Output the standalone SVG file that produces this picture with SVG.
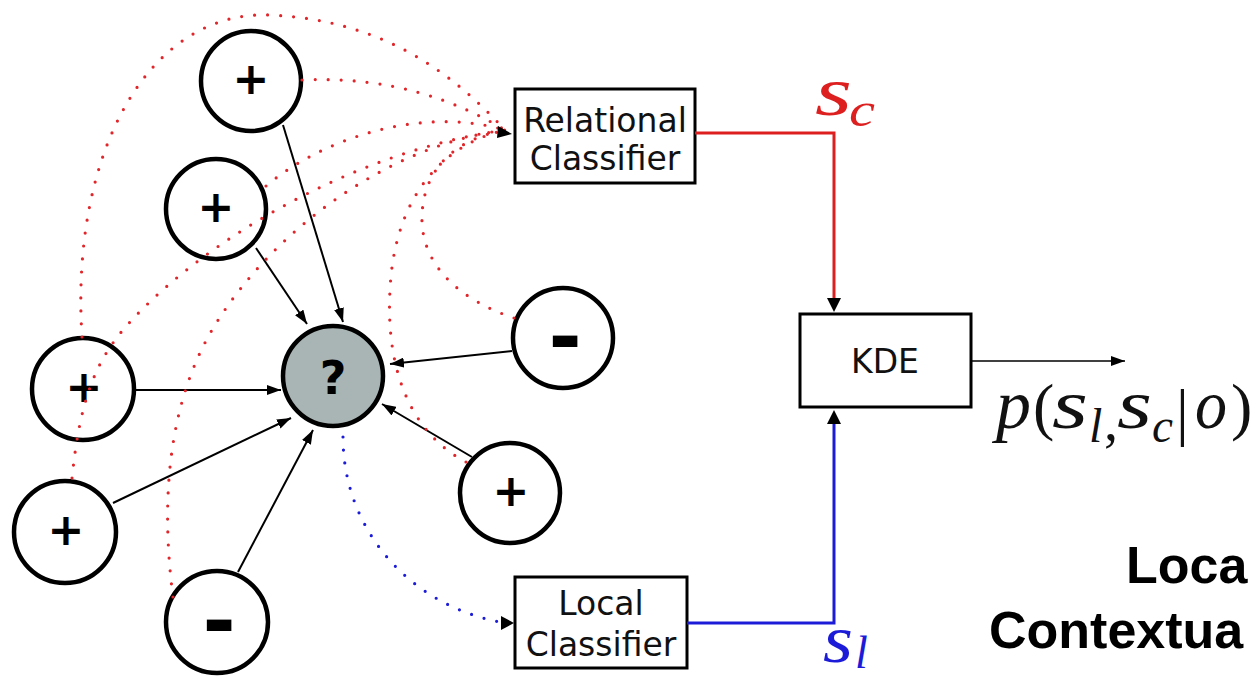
<svg xmlns="http://www.w3.org/2000/svg" width="1250" height="680" viewBox="0 0 1250 680">
  <style>
    .node { fill: #ffffff; stroke: #000; stroke-width: 4.5; }
    .query { fill: #a9b4b4; stroke: #000; stroke-width: 4.5; }
    .sign { font-family: "DejaVu Sans", sans-serif; font-weight: bold; fill: #000; text-anchor: middle; }
    .box { fill: #ffffff; stroke: #000; stroke-width: 3; }
    .boxlabel { font-family: "DejaVu Sans", sans-serif; font-size: 33px; fill: #111; text-anchor: middle; }
    .edge { fill: none; stroke: #000; stroke-width: 2; marker-end: url(#ah); }
    .rel { fill: none; stroke: #e0262a; stroke-width: 3.2; stroke-dasharray: 0 13; stroke-linecap: round; }
    .loc { fill: none; stroke: #1c1cd8; stroke-width: 3.2; stroke-dasharray: 0 13; stroke-linecap: round; }
    .math { font-family: "Liberation Serif", "Times New Roman", serif; font-style: italic; }
    .up { font-family: "Liberation Serif", "Times New Roman", serif; font-style: normal; }
    .title { font-family: "Liberation Sans", Arial, sans-serif; font-weight: bold; font-size: 52px; fill: #000; }
  </style>
  <defs>
    <marker id="ah" viewBox="0 0 14 10" refX="14" refY="5" markerWidth="14" markerHeight="10" orient="auto" markerUnits="userSpaceOnUse">
      <path d="M0,0 L14,5 L0,10 z" fill="#000"/>
    </marker>
  </defs>

  <rect width="1250" height="680" fill="#ffffff"/>

  <!-- neighbour nodes -->
  <g id="n-top-plus"><circle class="node" cx="251" cy="81" r="50"/><text class="sign" x="251" y="94" font-size="44">+</text></g>
  <g id="n-upper-plus"><circle class="node" cx="216" cy="209" r="50"/><text class="sign" x="216" y="222" font-size="44">+</text></g>
  <g id="n-left-plus"><circle class="node" cx="83" cy="389" r="51"/><text class="sign" x="84" y="402" font-size="44">+</text></g>
  <g id="n-lower-plus"><circle class="node" cx="65" cy="532" r="51"/><text class="sign" x="66" y="545" font-size="44">+</text></g>
  <g id="n-bottom-minus"><circle class="node" cx="217" cy="622" r="51"/><text class="sign" x="219" y="648" font-size="80">-</text></g>
  <g id="n-right-minus"><circle class="node" cx="563" cy="338" r="50"/><text class="sign" x="565" y="364" font-size="80">-</text></g>
  <g id="n-right-plus"><circle class="node" cx="510" cy="493" r="50"/><text class="sign" x="511" y="506" font-size="44">+</text></g>

  <!-- node to classify -->
  <g id="n-query"><circle class="query" cx="333" cy="376" r="50"/><text class="sign" x="333" y="394" font-size="46">?</text></g>

  <!-- classifier and estimator boxes -->
  <g id="relational-classifier">
    <rect class="box" x="515" y="89" width="180" height="94"/>
    <text class="boxlabel" x="605" y="132">Relational</text>
    <text class="boxlabel" x="605" y="170">Classifier</text>
  </g>
  <g id="local-classifier">
    <rect class="box" x="515" y="577" width="172" height="91"/>
    <text class="boxlabel" x="601" y="615">Local</text>
    <text class="boxlabel" x="601" y="656">Classifier</text>
  </g>
  <g id="kde">
    <rect class="box" x="800" y="314" width="171" height="93"/>
    <text class="boxlabel" x="885" y="373">KDE</text>
  </g>

  <!-- connectors -->
  <g id="connectors">
    <!-- neighbour edges into the query node -->
    <line class="edge" x1="283" y1="125" x2="343" y2="322"/>
    <line class="edge" x1="256" y1="248" x2="307" y2="324"/>
    <line class="edge" x1="135" y1="390" x2="281" y2="390"/>
    <line class="edge" x1="113" y1="503" x2="291" y2="418"/>
    <line class="edge" x1="238" y1="572" x2="313" y2="430"/>
    <line class="edge" x1="512" y1="351" x2="390" y2="364"/>
    <line class="edge" x1="472" y1="457" x2="382" y2="404"/>

    <!-- neighbour labels feeding the relational classifier -->
    <path class="rel" d="M302,80 C390,76 455,100 505,130"/>
    <path class="rel" d="M82,337 C70,150 150,10 270,15 C380,20 450,70 505,130"/>
    <path class="rel" d="M72,478 C80,400 95,360 130,322 C210,235 360,150 505,130"/>
    <path class="rel" d="M173,597 C158,480 175,390 215,325 C275,228 390,145 505,130"/>
    <path class="rel" d="M266,186 C320,140 420,105 505,130"/>
    <path class="rel" d="M514,318 C460,300 420,265 422,215 C424,165 460,138 505,130"/>
    <path class="rel" d="M466,462 C405,430 386,360 390,290 C394,200 440,145 505,130"/>
    <path d="M498,126 L512,134 L497,138 z" fill="#000"/>

    <!-- query attributes feeding the local classifier -->
    <path class="loc" d="M343,437 C343,530 410,605 500,622"/>
    <path d="M501,616 L514,623 L501,630 z" fill="#000"/>

    <!-- classifier scores into the KDE -->
    <path d="M695,133 H834 V300" fill="none" stroke="#dd1f1f" stroke-width="3"/>
    <path d="M827,298 L834,312 L841,298 z" fill="#000"/>
    <path d="M687,623 H834 V422" fill="none" stroke="#1c1cd8" stroke-width="3"/>
    <path d="M827,424 L834,410 L841,424 z" fill="#000"/>

    <!-- joint density output -->
    <line x1="971" y1="361" x2="1125" y2="361" stroke="#000" stroke-width="1.6" marker-end="url(#ah)"/>
  </g>

  <!-- score labels -->
  <g id="label-sc" class="math" fill="#dd1f1f">
    <text x="815" y="115" font-size="70" textLength="37" lengthAdjust="spacingAndGlyphs">s</text>
    <text x="849" y="126" font-size="48" textLength="26" lengthAdjust="spacingAndGlyphs">c</text>
  </g>
  <g id="label-sl" class="math" fill="#1c1cd8">
    <text x="823" y="662" font-size="68" textLength="30" lengthAdjust="spacingAndGlyphs">s</text>
    <text x="855" y="668" font-size="46">l</text>
  </g>

  <!-- output density -->
  <g id="label-output" fill="#111">
    <text class="math" x="996" y="428" font-size="70">p</text>
    <text class="up" x="1033" y="428" font-size="64">(</text>
    <text class="math" x="1052" y="428" font-size="70" textLength="36" lengthAdjust="spacingAndGlyphs">s</text>
    <text class="math" x="1089" y="442" font-size="48">l</text>
    <text class="up" x="1104" y="440" font-size="56">,</text>
    <text class="math" x="1117" y="428" font-size="70" textLength="35" lengthAdjust="spacingAndGlyphs">s</text>
    <text class="math" x="1152" y="442" font-size="48" textLength="21" lengthAdjust="spacingAndGlyphs">c</text>
    <text class="up" x="1176" y="433" font-size="64">|</text>
    <text class="math" x="1195" y="428" font-size="70" textLength="32" lengthAdjust="spacingAndGlyphs">o</text>
    <text class="up" x="1231" y="428" font-size="64">)</text>
  </g>

  <!-- section heading -->
  <g id="heading">
    <text class="title" x="1126" y="583">Loca</text>
    <text class="title" x="989" y="648">Contextua</text>
  </g>
</svg>
